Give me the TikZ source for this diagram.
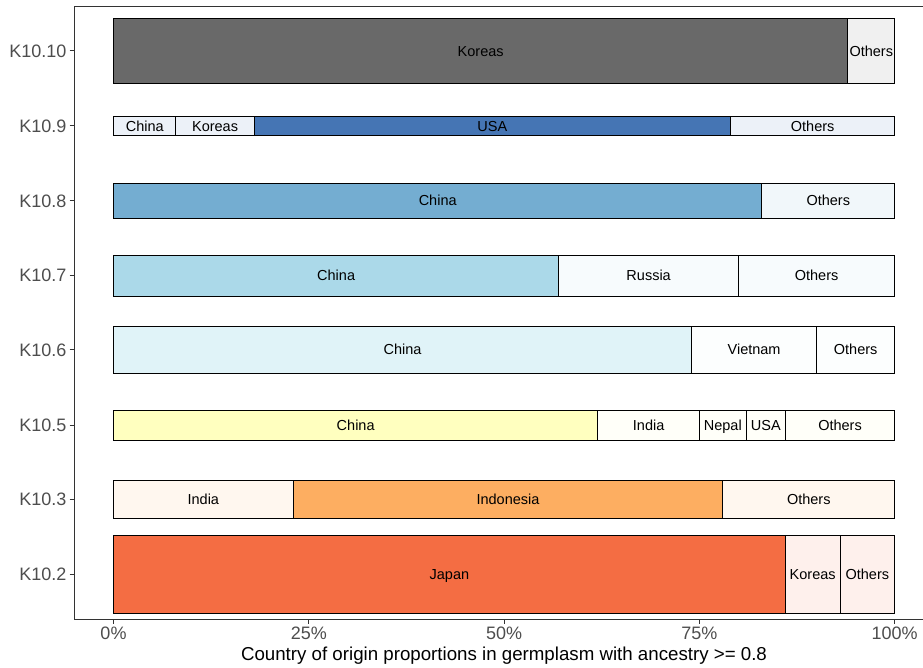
\documentclass[tikz,border=0pt]{standalone}
\usepackage{fontspec}
\setmainfont{Liberation Sans}
\usepackage{xcolor}
\definecolor{axgray}{HTML}{333333}
\definecolor{tickgray}{HTML}{4D4D4D}
\definecolor{cten}{HTML}{696969}
\definecolor{cnine}{HTML}{4575B4}
\definecolor{ceight}{HTML}{74ADD1}
\definecolor{cseven}{HTML}{ABD9E9}
\definecolor{csix}{HTML}{E0F3F8}
\definecolor{cfive}{HTML}{FFFFBF}
\definecolor{cthree}{HTML}{FDAE61}
\definecolor{ctwo}{HTML}{F46D43}

\begin{document}
\begin{tikzpicture}[x=1pt,y=-1pt,
  seg/.style={draw=black,line width=1pt},
  lab/.style={font=\fontsize{14.5}{16}\selectfont,inner sep=0pt,text height=10.4pt,text depth=0pt},
  ylab/.style={font=\fontsize{18}{20}\selectfont,text=tickgray,inner sep=0pt,text height=12.9pt,text depth=0pt,anchor=east},
  xlab/.style={font=\fontsize{18}{20}\selectfont,text=tickgray,inner sep=0pt,text height=12.9pt,text depth=0pt},
  axis/.style={draw=axgray,line width=1pt},
  tk/.style={draw=axgray,line width=0.9pt}]
  \useasboundingbox (0,0) rectangle (923,667);
  % panel
  \draw[axis] (923,6) -- (74,6) -- (74,619) -- (923,619);
  % y axis
  \foreach \y/\t in {50.8/K10.10,125.9/K10.9,200.7/K10.8,275.5/K10.7,349.7/K10.6,425/K10.5,499.5/K10.3,574.2/K10.2}{
    \draw[tk] (69.5,\y) -- (74,\y);
    \node[ylab] (y\t) at (66.5,\y) {\t};
  }
  \begin{scope}[xshift=113.5pt,x=7.812pt]
  % x axis
  \foreach \p in {0,25,50,75,100}{
    \draw[tk] (\p,619) -- (\p,623.5);
    \node[xlab] (x\p) at (\p,633) {\p\%};
  }
  % K10.10
  \draw[seg,fill=cten] (0,18.3) rectangle (94,83.3);
  \draw[seg,fill=cten!10] (94,18.3) rectangle (100,83.3);
  \node[lab] (tenkor) at (47,50.8) {Koreas};
  \node[lab] (tenoth) at (97,50.8) {Others};
  % K10.9
  \draw[seg,fill=cnine!10] (0,116.7) rectangle (8,135);
  \draw[seg,fill=cnine!10] (8,116.7) rectangle (18,135);
  \draw[seg,fill=cnine] (18,116.7) rectangle (79,135);
  \draw[seg,fill=cnine!10] (79,116.7) rectangle (100,135);
  \node[lab] (ninechn) at (4,125.9) {China};
  \node[lab] (ninekor) at (13,125.9) {Koreas};
  \node[lab] (nineusa) at (48.5,125.9) {USA};
  \node[lab] (nineoth) at (89.5,125.9) {Others};
  % K10.8
  \draw[seg,fill=ceight] (0,183.3) rectangle (83,218);
  \draw[seg,fill=ceight!10] (83,183.3) rectangle (100,218);
  \node[lab] (eightchn) at (41.5,200.7) {China};
  \node[lab] (eightoth) at (91.5,200.7) {Others};
  % K10.7
  \draw[seg,fill=cseven] (0,255) rectangle (57,296);
  \draw[seg,fill=cseven!10] (57,255) rectangle (80,296);
  \draw[seg,fill=cseven!10] (80,255) rectangle (100,296);
  \node[lab] (sevenchn) at (28.5,275.5) {China};
  \node[lab] (sevenrus) at (68.5,275.5) {Russia};
  \node[lab] (sevenoth) at (90,275.5) {Others};
  % K10.6
  \draw[seg,fill=csix] (0,326) rectangle (74,373.3);
  \draw[seg,fill=csix!10] (74,326) rectangle (90,373.3);
  \draw[seg,fill=csix!10] (90,326) rectangle (100,373.3);
  \node[lab] (sixchn) at (37,349.7) {China};
  \node[lab] (sixvnm) at (82,349.7) {Vietnam};
  \node[lab] (sixoth) at (95,349.7) {Others};
  % K10.5
  \draw[seg,fill=cfive] (0,410) rectangle (62,440);
  \draw[seg,fill=cfive!10] (62,410) rectangle (75,440);
  \draw[seg,fill=cfive!10] (75,410) rectangle (81,440);
  \draw[seg,fill=cfive!10] (81,410) rectangle (86,440);
  \draw[seg,fill=cfive!10] (86,410) rectangle (100,440);
  \node[lab] (fivechn) at (31,425) {China};
  \node[lab] (fiveind) at (68.5,425) {India};
  \node[lab] (fivenpl) at (78,425) {Nepal};
  \node[lab] (fiveusa) at (83.5,425) {USA};
  \node[lab] (fiveoth) at (93,425) {Others};
  % K10.3
  \draw[seg,fill=cthree!10] (0,480.7) rectangle (23,518.3);
  \draw[seg,fill=cthree] (23,480.7) rectangle (78,518.3);
  \draw[seg,fill=cthree!10] (78,480.7) rectangle (100,518.3);
  \node[lab] (threeind) at (11.5,499.5) {India};
  \node[lab] (threeidn) at (50.5,499.5) {Indonesia};
  \node[lab] (threeoth) at (89,499.5) {Others};
  % K10.2
  \draw[seg,fill=ctwo] (0,535) rectangle (86,613.3);
  \draw[seg,fill=ctwo!10] (86,535) rectangle (93,613.3);
  \draw[seg,fill=ctwo!10] (93,535) rectangle (100,613.3);
  \node[lab] (twojpn) at (43,574.2) {Japan};
  \node[lab] (twokor) at (89.5,574.2) {Koreas};
  \node[lab] (twooth) at (96.5,574.2) {Others};
  \end{scope}
  % axis title
  \node[font=\fontsize{18.7}{21}\selectfont,anchor=base,inner sep=0pt] (xtitle) at (504,660) {Country of origin proportions in germplasm with ancestry >= 0.8};
\end{tikzpicture}
\end{document}
